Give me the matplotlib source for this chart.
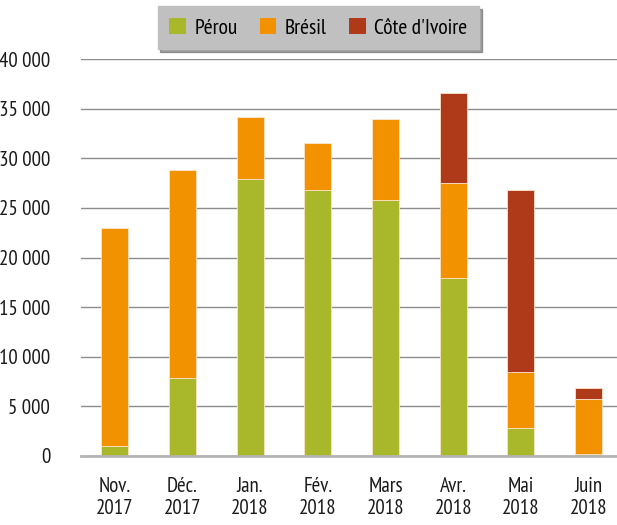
import matplotlib
matplotlib.use('Agg')
import matplotlib.pyplot as plt
from matplotlib.ticker import FuncFormatter
import numpy as np

mois = ['Nov.\n2017', 'Déc.\n2017', 'Jan.\n2018', 'Fév.\n2018', 'Mars\n2018',
        'Avr.\n2018', 'Mai\n2018', 'Juin\n2018']
perou = [1000, 7800, 27900, 26800, 25800, 17900, 2750, 150]
bresil = [22000, 21000, 6300, 4750, 8150, 9600, 5700, 5550]
cote_ivoire = [0, 0, 0, 0, 0, 9100, 18400, 1170]

plt.rcParams['font.family'] = ['PT Sans Narrow', 'DejaVu Sans']

fig = plt.figure(figsize=(6.17, 5.25), dpi=100)
ax = fig.add_axes([0.131, 0.132, 0.869, 0.755])

x = np.arange(len(mois))
w = 0.4
ec = '#fbe3c8'
bas2 = np.array(perou) + np.array(bresil)
ax.bar(x, perou, w, color='#a8b82a', edgecolor=ec, linewidth=0.6, label='Pérou', zorder=3)
ax.bar(x, bresil, w, bottom=perou, color='#f39200', edgecolor=ec, linewidth=0.6, label='Brésil', zorder=3)
ax.bar(x, cote_ivoire, w, bottom=bas2, color='#ae3a1a', edgecolor=ec, linewidth=0.6,
       label="Côte d'Ivoire", zorder=3)

ax.set_xlim(-0.5, 7.42)
ax.set_ylim(0, 40000)
ax.set_yticks(range(0, 40001, 5000))
ax.yaxis.set_major_formatter(FuncFormatter(lambda v, p: f'{int(v):,}'.replace(',', ' ')))
ax.set_xticks(x)
ax.set_xticklabels(mois)
ax.tick_params(axis='y', length=0, pad=22, labelsize=15, labelcolor='#1a1a1a')
ax.tick_params(axis='x', length=0, pad=15, labelsize=15, labelcolor='#1a1a1a')
ax.grid(axis='y', color='#8c8c8c', linewidth=1, zorder=0)
for s in ['top', 'right', 'left']:
    ax.spines[s].set_visible(False)
ax.spines['bottom'].set_color('#b4b4b4')
ax.spines['bottom'].set_linewidth(2)
ax.spines['bottom'].set_zorder(4)

leg = fig.legend(loc='center', bbox_to_anchor=(0.516, 0.947), ncol=3, frameon=True,
                 fancybox=False, shadow={'color': '#555555', 'alpha': 0.55}, fontsize=15.5,
                 handlelength=0.75, handleheight=0.75, handletextpad=0.4, columnspacing=1.05,
                 borderpad=0.55, borderaxespad=0)
leg.get_frame().set_facecolor('#c0c0c0')
leg.get_frame().set_edgecolor('#c0c0c0')
leg.get_frame().set_alpha(1)
for p in leg.get_patches():
    p.set_edgecolor('none')

fig.savefig('out.png', dpi=100)
